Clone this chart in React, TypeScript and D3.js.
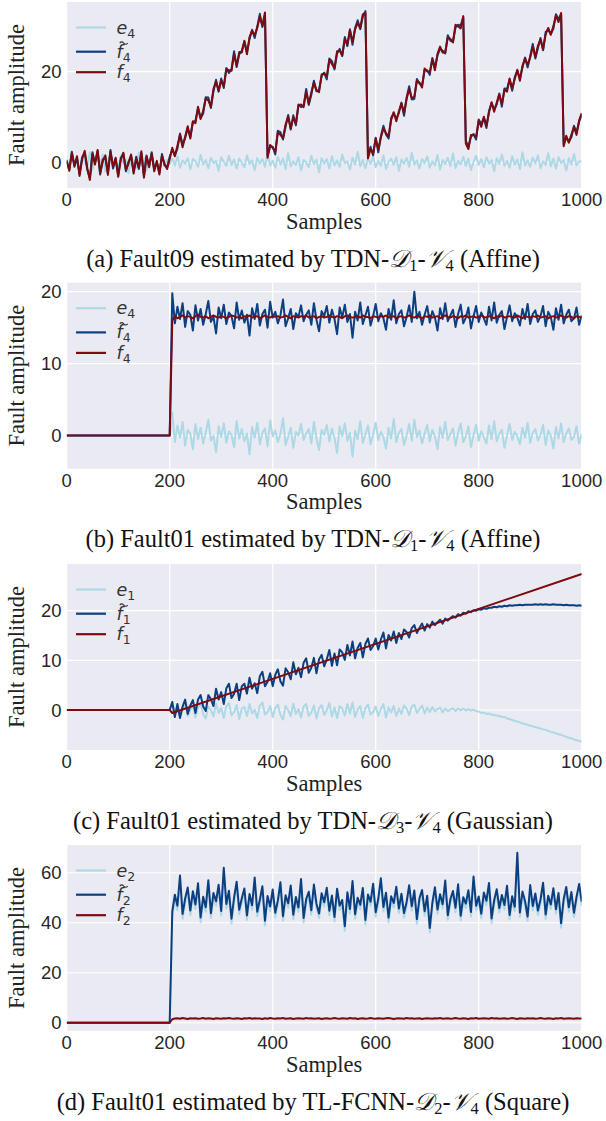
import React from 'react';
import * as d3 from 'd3';

// ---------- sample grids ----------
const FULL_GRID = d3.range(0, 1001, 5);
const FAULT_GRID = [0, ...d3.range(200, 1001, 5)];
const X_TICKS = [0, 200, 400, 600, 800, 1000];

// ---------- (a) Fault09, TDN-D1-V4 (Affine) ----------
const aF4 = [
  0.5,-1.8,2.1,-0.6,1.4,-2.9,0.8,2.6,-1.2,-3.8,
  1.9,-0.4,2.8,-2.2,0.3,1.6,-2.7,2.4,-0.9,1.1,
  -3.1,0.6,2.2,-1.5,-0.2,1.8,-2.4,0.9,-1.1,2.5,
  -3.3,1.3,-0.7,2.0,-1.9,0.4,-2.6,1.5,-0.3,-1.4,
  0.8,3.3,1.4,3.7,6.1,3.4,5.7,8.0,5.3,9.1,
  8.7,12.3,9.6,11.4,14.1,13.7,12.3,16.2,17.8,15.8,
  18.0,16.8,20.6,20.3,20.2,23.9,21.3,24.3,24.2,26.8,
  23.8,27.6,29.0,28.0,29.6,32.1,30.1,33.0,
  1.1,3.9,3.3,2.4,6.7,6.1,5.4,8.4,10.1,7.5,
  9.9,8.6,12.6,12.8,12.2,15.6,13.0,15.4,17.6,15.9,
  15.5,19.4,19.6,18.9,22.6,21.7,20.8,24.5,24.6,23.6,
  27.1,26.0,29.1,26.5,29.3,30.7,29.6,32.6,32.9,
  0.9,
  3.0,2.0,5.3,2.9,5.5,7.5,6.5,5.8,9.4,11.1,
  9.1,11.3,13.0,10.9,14.0,16.2,14.2,14.5,18.0,17.6,
  16.5,20.7,20.1,19.9,22.7,20.3,23.9,25.5,24.2,24.2,
  27.5,27.2,26.4,30.3,30.0,29.5,32.2,
  4.2,
  3.0,6.1,6.1,5.7,9.2,7.9,10.1,8.1,11.0,13.3,
  11.2,13.2,15.0,12.9,16.0,15.6,18.5,16.3,18.4,20.4,
  18.0,21.3,22.9,21.5,23.1,25.5,23.2,25.7,27.0,24.9,
  28.2,29.6,28.1,30.0,32.3,30.9,32.9,
  3.6,5.9,4.4,6.2,7.8,6.1,9.3,10.9,
];
const aFt4 = [
  0.2,-1.5,2.4,-0.9,1.0,-2.5,1.2,2.2,-1.6,-3.4,
  2.3,-0.1,2.5,-2.6,0.7,1.2,-2.3,2.8,-1.3,0.8,
  -2.8,1.0,1.9,-1.9,0.2,1.5,-2.0,1.3,-1.4,2.1,
  -2.9,1.6,-1.0,2.3,-1.5,0.1,-2.2,1.9,-0.6,-1.0,
  1.3,2.9,1.6,3.1,6.4,4.0,5.4,7.5,5.7,8.9,
  9.2,11.9,9.8,10.8,14.4,14.3,12.0,15.7,18.2,15.6,
  18.5,16.4,20.8,19.7,20.5,24.5,21.0,23.8,24.6,26.6,
  24.3,27.2,29.2,27.4,29.9,32.7,29.8,32.5,
  1.6,3.5,3.5,1.8,7.0,6.7,5.1,7.9,10.5,7.3,
  10.4,8.2,12.8,12.2,12.5,16.2,12.7,14.9,18.0,15.7,
  16.0,19.0,19.8,18.3,22.9,22.3,20.5,24.0,25.0,23.4,
  27.6,25.6,29.3,25.9,29.6,31.3,29.3,32.1,33.3,
  1.4,
  3.5,1.6,5.5,2.3,5.8,8.1,6.2,5.3,9.8,10.9,
  9.6,10.9,13.2,10.3,14.3,16.8,13.9,14.0,18.4,17.4,
  17.0,20.3,20.3,19.3,23.0,20.9,23.6,25.0,24.6,24.0,
  28.0,26.8,26.6,29.7,30.3,30.1,31.9,
  4.8,
  3.5,5.7,6.3,5.1,9.5,8.5,9.8,7.6,11.4,13.1,
  11.7,12.8,15.2,12.3,16.3,16.2,18.2,15.8,18.8,20.2,
  18.5,20.9,23.1,20.9,23.4,26.1,22.9,25.2,27.4,24.7,
  28.7,29.2,28.3,29.4,32.6,31.5,32.6,
  4.1,5.5,4.6,5.6,8.1,6.7,9.0,10.4,
];
const aE4 = [
  0.8,-1.2,1.9,-0.3,0.6,-2.1,1.4,0.2,-0.9,2.3,-1.6,0.5,1.1,-0.7,1.8,-1.9,0.3,2.0,-0.5,0.9,
  -1.4,1.5,-0.2,0.7,-2.3,1.2,0.1,-1.0,2.2,-0.6,1.0,-1.7,0.4,1.6,-0.8,0.2,-2.0,1.3,-0.4,0.6,
  -0.3,0.9,-0.6,1.4,-1.1,0.5,-0.2,1.0,-1.5,0.8,0.3,-0.9,1.7,-0.4,0.6,-1.2,1.1,-0.1,0.4,-1.8,
  1.2,0.2,-0.7,1.5,-0.5,0.7,-1.3,0.9,0.0,-1.0,1.6,-0.3,0.5,-1.6,1.0,-0.2,0.8,-0.9,1.9,-0.6,
  0.4,-1.1,1.3,-0.4,0.9,-1.4,2.1,-0.8,0.3,-0.5,1.2,-1.7,0.6,0.1,-1.0,1.5,-0.3,0.7,-2.1,1.0,
  -0.2,0.8,-1.3,1.4,-0.6,0.5,-0.9,1.8,-0.1,0.3,-1.5,1.1,-0.4,2.4,-0.8,0.6,-1.2,0.9,-0.3,1.3,
  -1.0,0.4,-0.7,1.6,-1.4,0.2,0.9,-0.5,1.2,-1.8,0.7,-0.2,1.0,-0.9,2.2,-0.4,0.5,-1.3,0.8,-0.1,
  1.4,-1.1,0.3,-0.6,1.7,-1.5,0.6,-0.3,1.1,-0.8,2.0,-1.2,0.4,-0.4,1.3,-0.7,0.9,-1.6,0.2,1.5,
  -0.5,0.8,-1.0,1.2,-0.2,0.6,-1.9,1.0,-0.3,1.8,-0.7,0.4,-1.1,1.4,-0.4,0.7,-1.4,2.3,-0.6,0.5,
  -0.9,1.1,-0.2,1.6,-1.2,0.3,-0.5,2.1,-0.8,0.9,-1.3,1.2,-0.1,0.6,-1.7,1.0,-0.4,1.9,-0.6,0.3,
  0.2,
];

// ---------- (b) Fault01, TDN-D1-V4 (Affine) ----------
const bF4 = [
  0, 0, 16.0,
  16.6,16.3,16.5,16.7,16.4,16.6,16.5,16.3,16.6,16.8,
  16.5,16.4,16.6,16.3,16.5,16.7,16.5,16.4,16.6,16.5,
  16.3,16.5,16.7,16.6,16.4,16.5,16.3,16.6,16.5,16.7,
  16.4,16.5,16.6,16.3,16.5,16.7,16.5,16.4,16.6,16.5,
  16.6,16.4,16.5,16.7,16.5,16.3,16.6,16.5,16.4,16.6,
  16.5,16.7,16.4,16.5,16.6,16.3,16.5,16.6,16.4,16.5,
  16.7,16.5,16.4,16.6,16.5,16.3,16.6,16.7,16.5,16.4,
  16.5,16.6,16.4,16.7,16.5,16.5,16.3,16.6,16.5,16.4,
  16.6,16.5,16.7,16.4,16.5,16.6,16.3,16.5,16.6,16.4,
  16.5,16.7,16.5,16.4,16.6,16.5,16.3,16.6,16.5,16.7,
  16.4,16.5,16.6,16.3,16.5,16.7,16.5,16.4,16.6,16.5,
  16.3,16.6,16.5,16.7,16.4,16.5,16.6,16.4,16.5,16.7,
  16.5,16.4,16.6,16.5,16.3,16.6,16.5,16.7,16.4,16.5,
  16.6,16.5,16.4,16.7,16.5,16.3,16.6,16.5,16.4,16.6,
  16.5,16.7,16.4,16.5,16.6,16.3,16.5,16.6,16.4,16.5,
  16.7,16.5,16.4,16.6,16.5,16.3,16.6,16.5,16.4,
];
const bFt4 = [
  0, 0, 19.8,
  15.6,17.9,16.2,18.4,15.1,17.3,16.8,14.6,18.1,16.0,
  17.6,15.4,16.9,18.7,15.8,16.5,14.2,17.8,16.3,18.2,
  15.5,17.1,16.6,14.9,18.5,16.1,17.4,15.7,16.8,13.9,
  17.7,16.2,18.3,15.3,16.9,17.5,15.0,18.6,16.4,17.2,
  15.6,16.7,18.9,15.2,16.3,17.6,14.8,17.0,16.5,18.1,
  15.9,16.8,17.4,15.4,18.4,16.1,14.5,17.3,16.6,18.0,
  15.7,17.5,16.2,14.1,17.8,16.4,18.2,15.8,16.9,13.6,
  17.2,16.0,18.5,15.5,16.7,17.9,15.3,16.6,18.3,15.9,
  17.0,16.3,14.7,17.6,16.1,18.8,15.6,16.9,17.4,15.2,
  16.5,18.1,15.8,20.0,16.3,17.2,15.4,16.8,18.0,15.7,
  17.3,16.4,14.6,17.7,16.2,18.4,15.9,16.7,17.5,15.1,
  16.9,18.2,15.6,16.4,17.8,14.9,16.6,18.0,15.8,17.1,
  16.3,15.4,17.9,16.0,18.5,15.7,16.8,17.3,14.8,16.5,
  18.1,15.9,17.0,16.4,15.3,17.6,16.2,18.3,15.5,16.9,
  17.4,15.8,16.6,18.0,15.2,17.2,16.5,14.7,17.7,16.1,
  18.2,15.6,16.8,17.5,15.9,16.3,17.8,15.4,16.7,
];
const bE4 = [
  0, 0, 3.2,
  -0.9,1.4,-0.3,1.9,-1.4,0.8,0.3,-1.9,1.6,-0.5,
  1.1,-1.1,0.4,2.2,-0.7,0.0,-2.3,1.3,-0.2,1.7,
  -1.0,0.6,0.1,-1.6,2.0,-0.4,0.9,-0.8,0.3,-2.6,
  1.2,-0.3,1.8,-1.2,0.4,1.0,-1.5,2.1,-0.1,0.7,
  -0.9,0.2,2.4,-1.3,-0.2,1.1,-1.7,0.5,0.0,1.6,
  -0.6,0.3,0.9,-1.1,1.9,-0.4,-2.0,0.8,0.1,1.5,
  -0.8,1.0,-0.3,-2.4,1.3,-0.1,1.7,-0.7,0.4,-2.9,
  0.7,-0.5,2.0,-1.0,0.2,1.4,-1.2,0.1,1.8,-0.6,
  0.5,-0.2,-1.8,1.1,-0.4,2.3,-0.9,0.4,0.9,-1.3,
  0.0,1.6,-0.7,2.2,-0.2,0.7,-1.1,0.3,1.5,-0.8,
  0.8,-0.1,-1.9,1.2,-0.3,1.9,-0.6,0.2,1.0,-1.4,
  0.4,1.7,-0.9,-0.1,1.3,-1.6,0.1,1.5,-0.7,0.6,
  -0.2,-1.1,1.4,-0.5,2.0,-0.8,0.3,0.8,-1.7,0.0,
  1.6,-0.6,0.5,-0.1,-1.2,1.1,-0.3,1.8,-1.0,0.4,
  0.9,-0.7,0.1,1.5,-1.3,0.7,0.0,-1.8,1.2,-0.4,
  1.7,-0.9,0.3,1.0,-0.6,-0.2,1.3,-1.1,0.2,
];

// ---------- (c) Fault01, TDN-D3-V4 (Gaussian) ----------
const cF1Samples = [0, 200, 205, 1000];
const cF1 = [0, 0, -0.6, 27.4];
const cFt1 = [
  0,
  0.0,1.6,-1.4,1.2,-1.6,0.7,2.1,-0.8,0.9,2.0,
  -0.6,2.1,3.0,0.7,-0.2,3.0,2.2,0.8,4.3,2.1,
  3.6,1.2,4.4,5.3,2.4,3.3,5.3,2.0,4.8,5.3,
  3.3,6.5,4.3,5.4,3.4,6.8,7.7,4.8,5.7,7.4,
  4.8,7.1,8.2,5.8,4.9,8.4,7.6,6.2,9.6,7.2,
  8.5,6.6,9.5,10.4,7.5,8.5,10.5,7.4,10.2,11.1,
  8.8,10.2,12.1,8.9,11.4,9.0,12.2,11.6,10.1,13.1,
  11.0,13.8,10.4,12.5,13.5,10.6,13.3,14.4,12.1,12.9,
  14.4,12.2,14.2,15.6,12.4,15.1,14.0,15.8,13.5,15.5,
  14.3,16.2,15.7,14.6,16.5,17.1,15.5,16.5,17.4,16.0,
  17.3,16.6,17.8,17.1,17.7,18.2,17.4,18.4,18.0,18.5,
  18.9,18.6,19.3,19.0,19.6,19.4,19.9,19.7,20.1,20.0,
  20.3,20.2,20.5,20.4,20.6,20.6,20.8,20.7,20.9,20.8,
  21.0,20.9,21.1,21.0,21.1,21.1,21.2,21.1,21.2,21.2,
  21.2,21.2,21.3,21.2,21.3,21.2,21.3,21.2,21.2,21.3,
  21.2,21.2,21.2,21.1,21.2,21.1,21.1,21.1,21.0,21.1,
  21.0,
];
const cE1 = [
  0,
  0.0,1.6,-1.0,0.9,-1.4,0.3,1.2,-1.2,0.0,0.8,
  -1.5,0.5,1.2,-0.8,-1.7,0.7,0.0,-1.3,1.3,-0.6,
  0.4,-1.6,0.8,1.4,-1.1,-0.4,1.0,-1.8,0.3,0.6,
  -1.2,1.2,-0.7,0.1,-1.6,0.9,1.5,-0.9,-0.4,0.8,
  -1.4,0.4,1.1,-1.0,-1.9,0.8,0.0,-1.2,1.3,-0.8,
  0.2,-1.5,0.7,1.2,-1.2,-0.5,0.9,-1.7,0.4,1.0,
  -1.0,0.0,1.4,-1.3,0.5,-1.6,0.8,0.3,-1.1,1.2,
  -0.7,1.5,-1.4,0.1,0.8,-1.6,0.4,1.1,-0.9,-0.4,
  0.7,-1.2,0.2,1.2,-1.5,0.5,-0.5,0.8,-1.2,0.3,
  -0.8,0.9,0.3,-1.0,0.7,1.1,-0.6,0.2,0.9,-0.7,
  0.5,-0.4,0.6,-0.3,0.2,0.5,-0.5,0.3,-0.2,0.1,
  0.3,-0.2,0.3,-0.1,0.3,-0.1,0.2,-0.1,0.1,-0.2,
  -0.3,-0.6,-0.5,-0.8,-0.7,-0.9,-1.0,-1.1,-1.2,-1.4,
  -1.4,-1.7,-1.8,-2.0,-2.2,-2.3,-2.5,-2.7,-2.8,-3.0,
  -3.1,-3.3,-3.4,-3.6,-3.7,-3.9,-4.0,-4.2,-4.4,-4.5,
  -4.7,-4.9,-5.0,-5.2,-5.4,-5.6,-5.7,-5.9,-6.1,-6.2,
  -6.4,
];

// ---------- (d) Fault01, TL-FCNN-D2-V4 (Square) ----------
const dF2 = [
  0,
  0.0,1.4,1.7,1.8,1.6,1.9,1.7,1.5,1.8,1.7,
  1.8,1.6,1.7,1.9,1.6,1.8,1.7,1.5,1.8,1.7,
  1.6,1.8,1.7,1.9,1.7,1.6,1.8,1.7,1.5,1.8,
  1.7,1.9,1.6,1.8,1.7,1.7,1.5,1.8,1.6,1.9,
  1.7,1.6,1.8,1.7,1.9,1.6,1.7,1.8,1.5,1.7,
  1.8,1.7,1.6,1.9,1.7,1.8,1.6,1.7,1.8,1.5,
  1.7,1.8,1.6,1.7,1.9,1.7,1.6,1.8,1.7,1.6,
  1.9,1.7,1.8,1.5,1.7,1.8,1.6,1.7,1.9,1.7,
  1.6,1.8,1.7,1.6,1.8,1.9,1.7,1.5,1.7,1.8,
  1.7,1.6,1.9,1.7,1.8,1.6,1.7,1.8,1.5,1.7,
  1.8,1.7,1.6,1.8,1.7,1.9,1.6,1.7,1.8,1.6,
  1.7,1.9,1.7,1.6,1.8,1.7,1.5,1.8,1.7,1.9,
  1.6,1.7,1.8,1.7,1.6,1.9,1.7,1.8,1.6,1.7,
  1.8,1.6,1.7,1.9,1.7,1.5,1.8,1.7,1.6,1.8,
  1.7,1.8,1.6,1.7,1.9,1.7,1.6,1.8,1.7,1.5,
  1.8,1.7,1.9,1.6,1.7,1.8,1.7,1.6,1.8,1.7,
  1.7,
];
const dFt2 = [
  0,
  0.0,44.5,51.2,46.8,58.9,43.5,49.7,54.1,44.9,52.6,
  47.3,55.8,42.1,50.4,46.2,57.0,43.8,51.9,48.6,55.2,
  44.7,62.0,47.5,52.8,41.6,50.1,56.4,45.2,49.8,53.7,
  42.9,51.5,47.0,58.1,44.4,49.2,54.6,40.8,50.7,46.5,
  53.3,44.0,48.9,56.2,42.6,51.0,47.8,54.9,43.2,50.3,
  46.1,57.5,41.9,49.5,52.4,45.0,55.3,47.6,43.7,51.8,
  48.2,54.0,44.8,50.9,42.3,53.6,46.9,49.1,38.6,52.2,
  45.5,56.7,43.4,50.0,47.2,53.9,41.1,51.3,48.4,55.6,
  44.2,49.6,57.8,46.3,52.0,42.0,50.6,47.9,54.4,45.7,
  51.6,43.9,48.3,55.0,46.6,52.9,41.4,49.9,53.1,44.6,
  50.8,37.9,48.0,54.2,45.3,51.4,47.4,56.9,43.0,49.4,
  52.7,46.0,55.4,42.8,50.2,47.7,53.0,44.3,58.5,46.8,
  50.5,43.6,52.1,48.8,55.9,41.7,49.0,53.4,45.9,51.1,
  47.1,54.8,43.1,50.6,46.4,68.0,44.1,52.5,48.7,42.5,
  55.1,46.7,51.7,44.9,49.3,56.0,43.3,50.8,47.3,53.8,
  45.4,51.9,39.8,49.5,54.3,46.2,52.3,44.0,50.4,55.5,
  48.5,
];
const dE2 = [
  0,
  0.0,42.8,49.3,45.0,57.1,41.6,47.9,52.3,43.0,50.8,
  45.5,54.0,40.2,48.6,44.4,55.2,41.9,50.1,46.8,53.4,
  42.9,60.2,45.7,51.0,39.7,48.3,54.6,43.4,48.0,51.9,
  41.1,49.7,45.2,56.3,42.6,47.4,52.8,38.9,48.9,44.7,
  51.5,42.2,47.1,54.4,40.8,49.2,46.0,53.1,41.4,48.5,
  44.3,55.7,40.1,47.7,50.6,43.2,53.5,45.8,41.9,50.0,
  46.4,52.2,43.0,49.1,40.5,51.8,45.1,47.3,36.8,50.4,
  43.7,54.9,41.6,48.2,45.4,52.1,39.3,49.5,46.6,53.8,
  42.4,47.8,56.0,44.5,50.2,40.2,48.8,46.1,52.6,43.9,
  49.8,42.1,46.5,53.2,44.8,51.1,39.6,48.1,51.3,42.8,
  49.0,36.1,46.2,52.4,43.5,49.6,45.6,55.1,41.2,47.6,
  50.9,44.2,53.6,41.0,48.4,45.9,51.2,42.5,56.7,45.0,
  48.7,41.8,50.3,47.0,54.1,39.9,47.2,51.6,44.1,49.3,
  45.3,53.0,41.3,48.8,44.6,66.2,42.3,50.7,46.9,40.7,
  53.3,44.9,49.9,43.1,47.5,54.2,41.5,49.0,45.5,52.0,
  43.6,50.1,38.0,47.7,52.5,44.4,50.5,42.2,48.6,53.7,
  46.7,
];

// ---------- styling ----------
const COLOR_E = '#add8e6';
const COLOR_FT = '#0c3f80';
const COLOR_F = '#7e0a10';
const BG = '#eaeaf2';
const TICK_FONT = "'Liberation Sans', Arial, Helvetica, sans-serif";
const SERIF = "'Liberation Serif', 'Times New Roman', 'DejaVu Serif', serif";
const MATH = "'DejaVu Sans', sans-serif";

const X0 = 66.7;
const X1 = 581.7;
const PH = 186;

type Series = { kind: 'e' | 'ft' | 'f'; color: string; samples: number[]; values: number[] };
type PanelCfg = {
  id: string; top: number; yDomain: [number, number]; yTicks: number[]; sub: string;
  series: Series[]; capPrefix: string; dSub: string; vSub: string; capSuffix: string;
};

const PANELS: PanelCfg[] = [
  {
    id: 'a', top: 2, yDomain: [-5.56, 35.3], yTicks: [0, 20], sub: '4',
    series: [
      { kind: 'e', color: COLOR_E, samples: FULL_GRID, values: aE4 },
      { kind: 'ft', color: COLOR_FT, samples: FULL_GRID, values: aFt4 },
      { kind: 'f', color: COLOR_F, samples: FULL_GRID, values: aF4 },
    ],
    capPrefix: '(a) Fault09 estimated by TDN-', dSub: '1', vSub: '4', capSuffix: ' (Affine)',
  },
  {
    id: 'b', top: 282.7, yDomain: [-4.6, 21.25], yTicks: [0, 10, 20], sub: '4',
    series: [
      { kind: 'e', color: COLOR_E, samples: FAULT_GRID, values: bE4 },
      { kind: 'ft', color: COLOR_FT, samples: FAULT_GRID, values: bFt4 },
      { kind: 'f', color: COLOR_F, samples: FAULT_GRID, values: bF4 },
    ],
    capPrefix: '(b) Fault01 estimated by TDN-', dSub: '1', vSub: '4', capSuffix: ' (Affine)',
  },
  {
    id: 'c', top: 564, yDomain: [-8.05, 29.4], yTicks: [0, 10, 20], sub: '1',
    series: [
      { kind: 'e', color: COLOR_E, samples: FAULT_GRID, values: cE1 },
      { kind: 'ft', color: COLOR_FT, samples: FAULT_GRID, values: cFt1 },
      { kind: 'f', color: COLOR_F, samples: cF1Samples, values: cF1 },
    ],
    capPrefix: '(c) Fault01 estimated by TDN-', dSub: '3', vSub: '4', capSuffix: ' (Gaussian)',
  },
  {
    id: 'd', top: 845, yDomain: [-3.3, 71.1], yTicks: [0, 20, 40, 60], sub: '2',
    series: [
      { kind: 'e', color: COLOR_E, samples: FAULT_GRID, values: dE2 },
      { kind: 'ft', color: COLOR_FT, samples: FAULT_GRID, values: dFt2 },
      { kind: 'f', color: COLOR_F, samples: FAULT_GRID, values: dF2 },
    ],
    capPrefix: '(d) Fault01 estimated by TL-FCNN-', dSub: '2', vSub: '4', capSuffix: ' (Square)',
  },
];

const LEGEND_ROWS = [25.5, 49.7, 70.2];

function LegendLabel({ kind, sub, x, y }: { kind: string; sub: string; x: number; y: number }) {
  const base = kind === 'e' ? 'e' : 'f';
  return (
    <g>
      <text x={x} y={y} fontFamily={MATH} fontStyle="italic" fontSize={17.5} fill="#333">
        {base}
        <tspan fontSize={12.5} dy={4} fontStyle="normal">{sub}</tspan>
      </text>
      {kind === 'ft' && (
        <path
          d={`M${x + 3.2},${y - 14.6} q2,-2.4 4,0 t4,0`}
          fill="none"
          stroke="#333"
          strokeWidth={1.1}
        />
      )}
    </g>
  );
}

function Panel({ cfg }: { cfg: PanelCfg }) {
  const { top } = cfg;
  const x = d3.scaleLinear().domain([0, 1000]).range([X0, X1]);
  const y = d3.scaleLinear().domain(cfg.yDomain).range([top + PH, top]);
  const line = d3
    .line<[number, number]>()
    .x((d) => x(d[0]))
    .y((d) => y(d[1]));
  const clipId = `clip-${cfg.id}`;
  const capY = top + 264.5;
  return (
    <g>
      <defs>
        <clipPath id={clipId}>
          <rect x={X0} y={top} width={X1 - X0} height={PH} />
        </clipPath>
      </defs>
      <rect x={X0} y={top} width={X1 - X0} height={PH} fill={BG} />
      {X_TICKS.map((t) => (
        <line key={'gx' + t} x1={x(t)} x2={x(t)} y1={top} y2={top + PH} stroke="#fff" strokeWidth={1.2} />
      ))}
      {cfg.yTicks.map((t) => (
        <line key={'gy' + t} x1={X0} x2={X1} y1={y(t)} y2={y(t)} stroke="#fff" strokeWidth={1.2} />
      ))}
      <g clipPath={`url(#${clipId})`}>
        {cfg.series.map((s) => {
          const pts: [number, number][] = s.samples
            .map((v, i) => [v, s.values[i]] as [number, number])
            .filter((p) => p[1] !== undefined);
          return (
            <path key={s.kind} d={line(pts) || ''} fill="none" stroke={s.color} strokeWidth={2} strokeLinejoin="round" />
          );
        })}
      </g>
      {cfg.series.map((s, i) => (
        <g key={'lg' + s.kind}>
          <line x1={76} x2={106} y1={top + LEGEND_ROWS[i]} y2={top + LEGEND_ROWS[i]} stroke={s.color} strokeWidth={2.2} />
          <LegendLabel kind={s.kind} sub={cfg.sub} x={116.5} y={top + LEGEND_ROWS[i] + 6} />
        </g>
      ))}
      {X_TICKS.map((t) => (
        <text key={'tx' + t} x={x(t)} y={top + 204} textAnchor="middle" fontFamily={TICK_FONT} fontSize={18.5} fill="#262626">
          {t}
        </text>
      ))}
      {cfg.yTicks.map((t) => (
        <text key={'ty' + t} x={61.5} y={y(t) + 6.6} textAnchor="end" fontFamily={TICK_FONT} fontSize={18.5} fill="#262626">
          {t}
        </text>
      ))}
      <text x={(X0 + X1) / 2} y={top + 226.5} textAnchor="middle" fontFamily={SERIF} fontSize={22.5} fill="#222">
        Samples
      </text>
      <text
        transform={`translate(23.5, ${top + PH / 2}) rotate(-90)`}
        textAnchor="middle"
        fontFamily={SERIF}
        fontSize={22.5}
        fill="#222"
      >
        Fault amplitude
      </text>
      <text x={313} y={capY} textAnchor="middle" fontFamily={SERIF} fontSize={24.5} fill="#111">
        {cfg.capPrefix}
        <tspan fontStyle="italic">{'\u{1D49F}'}</tspan>
        <tspan fontSize={16.5} dy={4}>{cfg.dSub}</tspan>
        <tspan dy={-4}>-</tspan>
        <tspan fontStyle="italic">{'\u{1D4B1}'}</tspan>
        <tspan fontSize={16.5} dy={4}>{cfg.vSub}</tspan>
        <tspan dy={-4}>{cfg.capSuffix}</tspan>
      </text>
    </g>
  );
}

export default function App() {
  return (
    <svg
      width={606}
      height={1121}
      viewBox="0 0 606 1121"
      style={{ position: 'absolute', left: 0, top: 0, display: 'block', background: '#fff' }}
    >
      <rect x={0} y={0} width={606} height={1121} fill="#fff" />
      {PANELS.map((p) => (
        <Panel key={p.id} cfg={p} />
      ))}
    </svg>
  );
}
